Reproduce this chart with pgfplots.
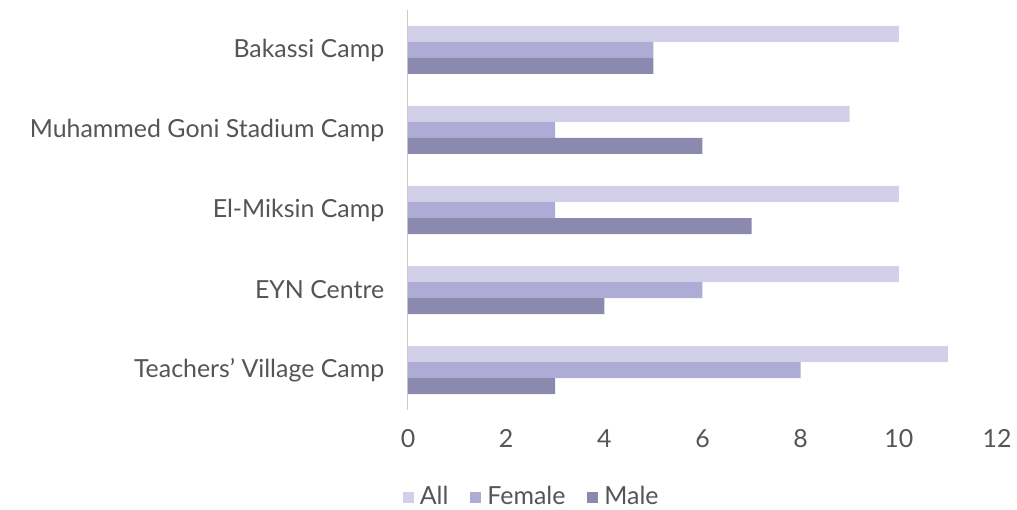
\documentclass[border=0pt]{standalone}
\usepackage{pgfplots}
\pgfplotsset{compat=1.18}
\usepackage{fontspec}
\setmainfont{Lato}
\definecolor{cAll}{HTML}{D2D0E8}
\definecolor{cFem}{HTML}{AEABD5}
\definecolor{cMale}{HTML}{8C89AE}
\definecolor{txt}{HTML}{555555}

\begin{document}
\begin{tikzpicture}
\begin{axis}[
  at={(0,0)}, anchor=south west,
  scale only axis,
  width=589bp, height=400bp,
  xbar, bar width=0.2,
  xmin=0, xmax=12,
  ymin=-0.5, ymax=4.5,
  xtick={0,2,...,12},
  ytick={0,1,2,3,4},
  yticklabels={Teachers' Village Camp, EYN Centre, El-Miksin Camp, Muhammed Goni Stadium Camp, Bakassi Camp},
  axis x line*=bottom,
  axis y line*=left,
  x axis line style={draw=none},
  y axis line style={draw=black!20, line width=1bp, -},
  xticklabel style={yshift=-16bp},
  yticklabel style={xshift=-16bp},
  tick style={draw=none},
  ticklabel style={font=\fontsize{25}{29}\selectfont, text=txt},
  /pgf/number format/assume math mode=true,
  legend columns=3,
  legend style={draw=none, at={(0.21,-0.215)}, anchor=center,
    font=\fontsize{25}{29}\selectfont, text=txt,
    /tikz/every odd column/.append style={column sep=4bp},
    /tikz/every even column/.append style={column sep=20bp}},
  legend image code/.code={\fill[#1] (0bp,-7bp) rectangle (11bp,4bp);},
]
\addplot[fill=cAll, draw=none, bar shift=0.2] coordinates {(11,0) (10,1) (10,2) (9,3) (10,4)};
\addplot[fill=cFem, draw=none, bar shift=0] coordinates {(8,0) (6,1) (3,2) (3,3) (5,4)};
\addplot[fill=cMale, draw=none, bar shift=-0.2] coordinates {(3,0) (4,1) (7,2) (6,3) (5,4)};
\legend{All, Female, Male}
\end{axis}
\useasboundingbox (-408bp,-100bp) rectangle (609bp,410bp);
\end{tikzpicture}
\end{document}
